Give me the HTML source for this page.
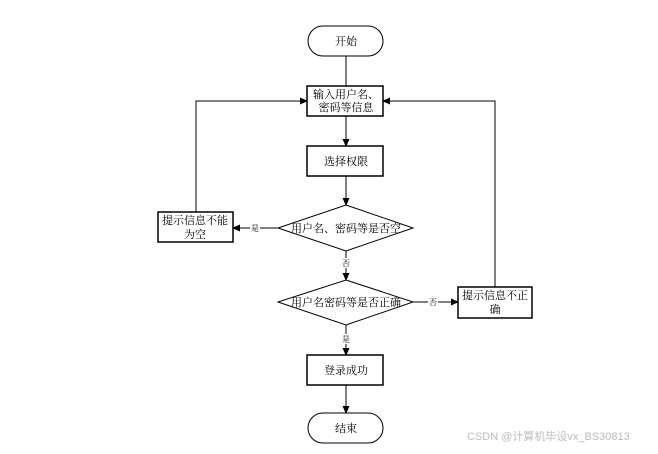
<!DOCTYPE html>
<html><head><meta charset="utf-8"><style>body{margin:0;background:#fff}</style></head><body>
<svg width="658" height="449" viewBox="0 0 658 449" xmlns="http://www.w3.org/2000/svg" font-family="'Liberation Serif','Noto Serif CJK SC',serif" font-size="11">
<defs><marker id="a" markerWidth="8" markerHeight="8" refX="7" refY="4" orient="auto" markerUnits="userSpaceOnUse"><path d="M0,0.5 L8,4 L0,7.5z" fill="#000"/></marker></defs>
<g stroke="#000" stroke-width="1" fill="none">
<rect x="308" y="26" width="75" height="30" rx="15" fill="#fff"/>
<rect x="307" y="86" width="76" height="30" fill="#fff" stroke-width="1.5"/>
<rect x="307" y="146" width="76" height="30" fill="#fff" stroke-width="1.5"/>
<polygon points="346,205 413,228 346,251 278,228" fill="#fff"/>
<rect x="158" y="212" width="75" height="30" fill="#fff" stroke-width="1.5"/>
<polygon points="346,280 413,302 346,325 278,302" fill="#fff"/>
<rect x="458" y="287" width="74" height="31" fill="#fff" stroke-width="1.5"/>
<rect x="307" y="355" width="76" height="30" fill="#fff" stroke-width="1.5"/>
<rect x="308" y="413" width="75" height="30" rx="15" fill="#fff"/>
<line x1="346" y1="56" x2="346" y2="86"/>
<line x1="346" y1="116" x2="346" y2="146" marker-end="url(#a)"/>
<line x1="346" y1="176" x2="346" y2="205" marker-end="url(#a)"/>
<line x1="278" y1="228" x2="233" y2="228" marker-end="url(#a)"/>
<polyline points="196,212 196,101 307,101" marker-end="url(#a)"/>
<line x1="346" y1="251" x2="346" y2="280" marker-end="url(#a)"/>
<line x1="413" y1="302" x2="458" y2="302" marker-end="url(#a)"/>
<polyline points="495,287 495,101 383,101" marker-end="url(#a)"/>
<line x1="346" y1="325" x2="346" y2="355" marker-end="url(#a)"/>
<line x1="346" y1="385" x2="346" y2="413" marker-end="url(#a)"/>
</g>
<g text-anchor="middle" fill="#000">
<text x="346" y="45">开始</text>
<text x="346" y="98">输入用户名、</text>
<text x="346" y="111">密码等信息</text>
<text x="346" y="165">选择权限</text>
<text x="346" y="232">用户名、密码等是否空</text>
<text x="195" y="224">提示信息不能</text>
<text x="195" y="238">为空</text>
<text x="346" y="306">用户名密码等是否正确</text>
<text x="495" y="299">提示信息不正</text>
<text x="495" y="313">确</text>
<text x="346" y="374">登录成功</text>
<text x="346" y="432">结束</text>
</g>
<g text-anchor="middle" font-size="8" fill="#000">
<rect x="250" y="223" width="10" height="10" fill="#fff"/><text x="255" y="231">是</text>
<rect x="341" y="258" width="10" height="10" fill="#fff"/><text x="346" y="266">否</text>
<rect x="428" y="297" width="10" height="10" fill="#fff"/><text x="433" y="305">否</text>
<rect x="341" y="334" width="10" height="10" fill="#fff"/><text x="346" y="342">是</text>
</g>
<text x="467" y="440" font-family="'Liberation Sans','Noto Sans CJK SC',sans-serif" font-size="11" fill="#bbb">CSDN @计算机毕设vx_BS30813</text>
</svg>
</body></html>
